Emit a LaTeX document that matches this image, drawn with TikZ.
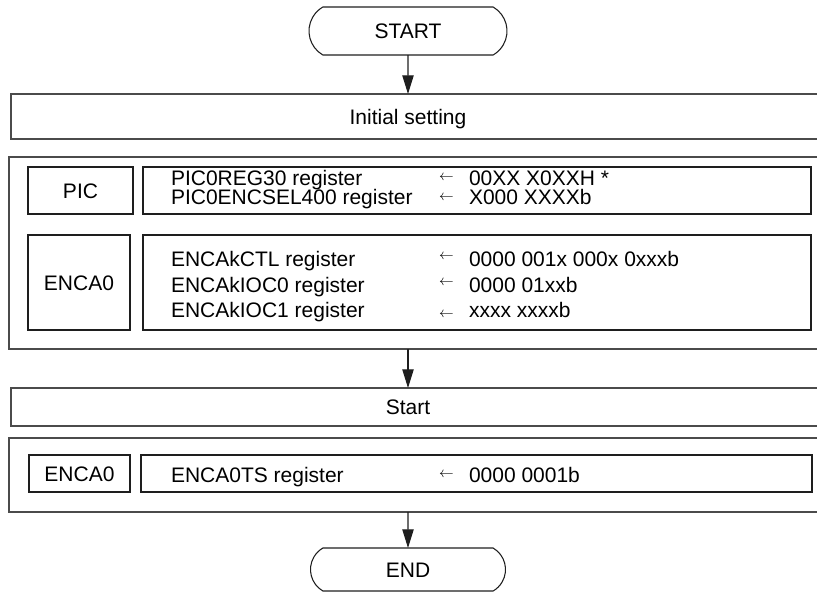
\documentclass[tikz,border=0pt]{standalone}
\usepackage{fontspec}
\setmainfont{Liberation Sans}
\usetikzlibrary{arrows.meta,calc,shapes.misc}

\definecolor{boxline}{RGB}{30,30,30}
\definecolor{outerline}{RGB}{75,75,75}

% one pixel of the original drawing
\def\pxu{0.75pt}
% small assignment arrow in front of a value
\newcommand{\assign}[1][2.8pt]{\makebox[22.5pt][l]{\raisebox{#1}{\fontsize{11}{11}\selectfont$\leftarrow$}}}

\begin{document}
\begin{tikzpicture}[x=0.75pt, y=-0.75pt, >={Triangle[length=14pt,width=8.5pt]},
  font=\fontsize{15.75}{18}\selectfont,
  every node/.style={inner sep=0pt, outer sep=0pt},
  term/.style={draw=boxline, line width=0.8pt, rounded rectangle,
               rounded rectangle arc length=120, text height=11.3pt, text depth=0pt},
  bar/.style={text height=11.3pt, text depth=0pt},
  frame/.style={draw=outerline, line width=1pt},
  cell/.style={draw=boxline, line width=0.8pt, text height=11.3pt, text depth=0pt},
  reg/.style={anchor=base west},
  flow/.style={->, draw=boxline, line width=0.8pt}]

\useasboundingbox (0,0) rectangle (817,594);
\clip (0,0) rectangle (817,594);

% =====================================================================
% Terminals and the four wide bands (open on the right edge)
% =====================================================================
\node[term, minimum width=198*\pxu, minimum height=48*\pxu] (start) at (408,31) {START};

\node[bar, minimum width=794*\pxu, minimum height=45*\pxu] (init) at (408,116.5) {Initial setting};
\node[bar, minimum width=798*\pxu, minimum height=192*\pxu] (setup) at (408,253) {};
\node[bar, minimum width=794*\pxu, minimum height=38*\pxu] (run) at (408,407) {Start};
\node[bar, minimum width=798*\pxu, minimum height=74*\pxu] (trig) at (408,475) {};

\node[term, minimum width=195*\pxu, minimum height=43*\pxu] (end) at (408,569.5) {END};

\foreach \b in {init,setup,run,trig}
  \draw[frame] (\b.north west) rectangle ($(\b.south east)+(30,0)$);

% =====================================================================
% Peripheral boxes and register boxes
% =====================================================================
\node[cell, minimum width=105*\pxu, minimum height=47*\pxu] (pic) at (80.5,190.5) {PIC};
\node[cell, minimum width=668*\pxu, minimum height=47*\pxu] (picregs) at (477,190.5) {};

\node[cell, minimum width=102*\pxu, minimum height=95*\pxu] (enca) at (79,282.5) {ENCA0};
\node[cell, minimum width=668*\pxu, minimum height=95*\pxu] (encaregs) at (477,282.5) {};

\node[cell, minimum width=101*\pxu, minimum height=37*\pxu] (ts) at (79.5,473.5) {ENCA0};
\node[cell, minimum width=671*\pxu, minimum height=37*\pxu] (tsregs) at (476.5,473.5) {};

% --- register settings ---
\node[reg] (r1) at (171,185) {PIC0REG30 register};
\node[reg] (v1) at (439,185) {\assign[3.2pt]00XX X0XXH *};
\node[reg] (r2) at (171,204) {PIC0ENCSEL400 register};
\node[reg] (v2) at (439,204) {\assign X000 XXXXb};

\node[reg] (r3) at (171,266.5) {ENCAkCTL register};
\node[reg] (v3) at (439,266.5) {\assign[5.2pt]0000 001x 000x 0xxxb};
\node[reg] (r4) at (171,292) {ENCAkIOC0 register};
\node[reg] (v4) at (439,292) {\assign[5.2pt]0000 01xxb};
\node[reg] (r5) at (171,317.5) {ENCAkIOC1 register};
\node[reg] (v5) at (439,317.5) {\assign[-0.3pt]xxxx xxxxb};

\node[reg] (r6) at (171,482.5) {ENCA0TS register};
\node[reg] (v6) at (439,482.5) {\assign[3.8pt]0000 0001b};

% ===== flow =====
\draw[flow] (start) -- (init);
\draw[flow] (setup) -- (run);
\draw[flow] (trig) -- (end);

\end{tikzpicture}
\end{document}
